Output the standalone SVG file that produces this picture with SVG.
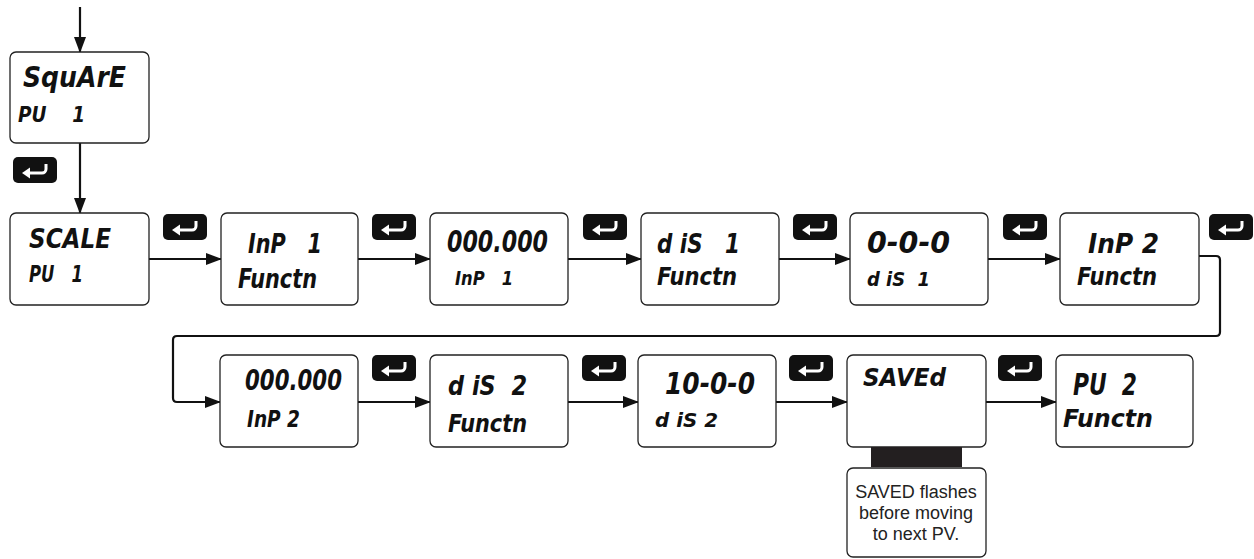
<svg xmlns="http://www.w3.org/2000/svg" width="1254" height="559" viewBox="0 0 1254 559">
<defs>
<style>
.box{fill:#fff;stroke:#222;stroke-width:1.3}
.lcd{font-family:"DejaVu Sans",sans-serif;font-weight:bold;font-style:italic;fill:#111;white-space:pre}
.con{fill:none;stroke:#111;stroke-width:2.2}
.note{font-family:"Liberation Sans",Arial,sans-serif;font-size:18px;fill:#222;text-anchor:middle}
</style>
<marker id="ah" markerWidth="16" markerHeight="12" refX="15" refY="6" orient="auto" markerUnits="userSpaceOnUse">
<path d="M0,0 L16,6 L0,12 Z" fill="#111"/>
</marker>
<g id="enter">
<rect x="0" y="0" width="44" height="26" rx="5" fill="#111"/>
<path d="M15,16 H29 A4,4 0 0 0 33,12 V7" fill="none" stroke="#fff" stroke-width="3"/>
<path d="M9,16 L17,10.5 L17,21.5 Z" fill="#fff"/>
</g>
</defs>

<g id="connectors">
<path class="con" d="M80,7 V52" marker-end="url(#ah)"/>
<path class="con" d="M80,143 V213" marker-end="url(#ah)"/>
<path class="con" d="M149,259 H221" marker-end="url(#ah)"/>
<path class="con" d="M358,259 H430" marker-end="url(#ah)"/>
<path class="con" d="M568,259 H641" marker-end="url(#ah)"/>
<path class="con" d="M779,259 H850" marker-end="url(#ah)"/>
<path class="con" d="M988,259 H1060" marker-end="url(#ah)"/>
<path class="con" d="M1199,256 H1216 Q1220,256 1220,260 V332 Q1220,336 1216,336 H177 Q173,336 173,340 V398 Q173,402 177,402 H220" marker-end="url(#ah)"/>
<path class="con" d="M358,402 H430" marker-end="url(#ah)"/>
<path class="con" d="M568,402 H638" marker-end="url(#ah)"/>
<path class="con" d="M776,402 H847" marker-end="url(#ah)"/>
<path class="con" d="M986,402 H1056" marker-end="url(#ah)"/>
</g>

<g id="enter-keys">
<use href="#enter" x="13" y="157"/>
<use href="#enter" x="163" y="214"/>
<use href="#enter" x="372" y="214"/>
<use href="#enter" x="583" y="214"/>
<use href="#enter" x="793" y="214"/>
<use href="#enter" x="1003" y="214"/>
<use href="#enter" x="1209" y="214"/>
<use href="#enter" x="372" y="355"/>
<use href="#enter" x="582" y="355"/>
<use href="#enter" x="789" y="355"/>
<use href="#enter" x="998" y="355"/>
</g>

<g id="node-square">
<rect class="box" x="10" y="52" width="139" height="91" rx="6"/>
<text class="lcd" x="23" y="87" font-size="28" textLength="103" lengthAdjust="spacingAndGlyphs">SquArE</text>
<text class="lcd" x="18" y="122" font-size="22" textLength="67" lengthAdjust="spacingAndGlyphs">PU    1</text>
</g>

<g id="node-scale">
<rect class="box" x="10" y="213" width="139" height="92" rx="6"/>
<text class="lcd" x="29" y="248" font-size="27" textLength="82" lengthAdjust="spacingAndGlyphs">SCALE</text>
<text class="lcd" x="29" y="282" font-size="23" textLength="54" lengthAdjust="spacingAndGlyphs">PU   1</text>
</g>

<g id="node-inp1">
<rect class="box" x="221" y="213" width="137" height="92" rx="6"/>
<text class="lcd" x="248" y="253" font-size="27" textLength="74" lengthAdjust="spacingAndGlyphs">InP   1</text>
<text class="lcd" x="238" y="288" font-size="26" textLength="79" lengthAdjust="spacingAndGlyphs">Functn</text>
</g>

<g id="node-inp1-value">
<rect class="box" x="430" y="213" width="138" height="92" rx="6"/>
<text class="lcd" x="447" y="252" font-size="30" textLength="101" lengthAdjust="spacingAndGlyphs">000.000</text>
<text class="lcd" x="455" y="285" font-size="19" textLength="58" lengthAdjust="spacingAndGlyphs">InP   1</text>
</g>

<g id="node-dis1">
<rect class="box" x="641" y="213" width="138" height="92" rx="6"/>
<text class="lcd" x="657" y="253" font-size="27" textLength="83" lengthAdjust="spacingAndGlyphs">d iS   1</text>
<text class="lcd" x="657" y="285" font-size="24" textLength="80" lengthAdjust="spacingAndGlyphs">Functn</text>
</g>

<g id="node-dis1-value">
<rect class="box" x="850" y="213" width="138" height="92" rx="6"/>
<text class="lcd" x="867" y="253" font-size="31" textLength="83" lengthAdjust="spacingAndGlyphs">0-0-0</text>
<text class="lcd" x="867" y="286" font-size="19" textLength="63" lengthAdjust="spacingAndGlyphs">d iS  1</text>
</g>

<g id="node-inp2">
<rect class="box" x="1060" y="213" width="139" height="92" rx="6"/>
<text class="lcd" x="1088" y="253" font-size="27" textLength="71" lengthAdjust="spacingAndGlyphs">InP 2</text>
<text class="lcd" x="1077" y="285" font-size="24" textLength="80" lengthAdjust="spacingAndGlyphs">Functn</text>
</g>

<g id="node-inp2-value">
<rect class="box" x="220" y="355" width="138" height="92" rx="6"/>
<text class="lcd" x="245" y="390" font-size="29" textLength="97" lengthAdjust="spacingAndGlyphs">000.000</text>
<text class="lcd" x="247" y="427" font-size="23" textLength="53" lengthAdjust="spacingAndGlyphs">InP 2</text>
</g>

<g id="node-dis2">
<rect class="box" x="430" y="355" width="138" height="92" rx="6"/>
<text class="lcd" x="448" y="395" font-size="27" textLength="79" lengthAdjust="spacingAndGlyphs">d iS  2</text>
<text class="lcd" x="448" y="432" font-size="25" textLength="79" lengthAdjust="spacingAndGlyphs">Functn</text>
</g>

<g id="node-dis2-value">
<rect class="box" x="638" y="355" width="138" height="92" rx="6"/>
<text class="lcd" x="665" y="394" font-size="31" textLength="90" lengthAdjust="spacingAndGlyphs">10-0-0</text>
<text class="lcd" x="655" y="427" font-size="19" textLength="63" lengthAdjust="spacingAndGlyphs">d iS 2</text>
</g>

<g id="node-saved">
<rect class="box" x="847" y="355" width="139" height="92" rx="6"/>
<text class="lcd" x="863" y="386" font-size="25" textLength="83" lengthAdjust="spacingAndGlyphs">SAVEd</text>
<rect x="871" y="447" width="91" height="20" fill="#231f20"/>
<rect class="box" x="847" y="468" width="139" height="89" rx="6"/>
<text class="note" x="916" y="498">SAVED flashes</text>
<text class="note" x="916" y="519">before moving</text>
<text class="note" x="916" y="540">to next PV.</text>
</g>

<g id="node-pv2">
<rect class="box" x="1056" y="355" width="137" height="92" rx="6"/>
<text class="lcd" x="1073" y="395" font-size="31" textLength="64" lengthAdjust="spacingAndGlyphs">PU  2</text>
<text class="lcd" x="1063" y="427" font-size="24" textLength="90" lengthAdjust="spacingAndGlyphs">Functn</text>
</g>
</svg>
